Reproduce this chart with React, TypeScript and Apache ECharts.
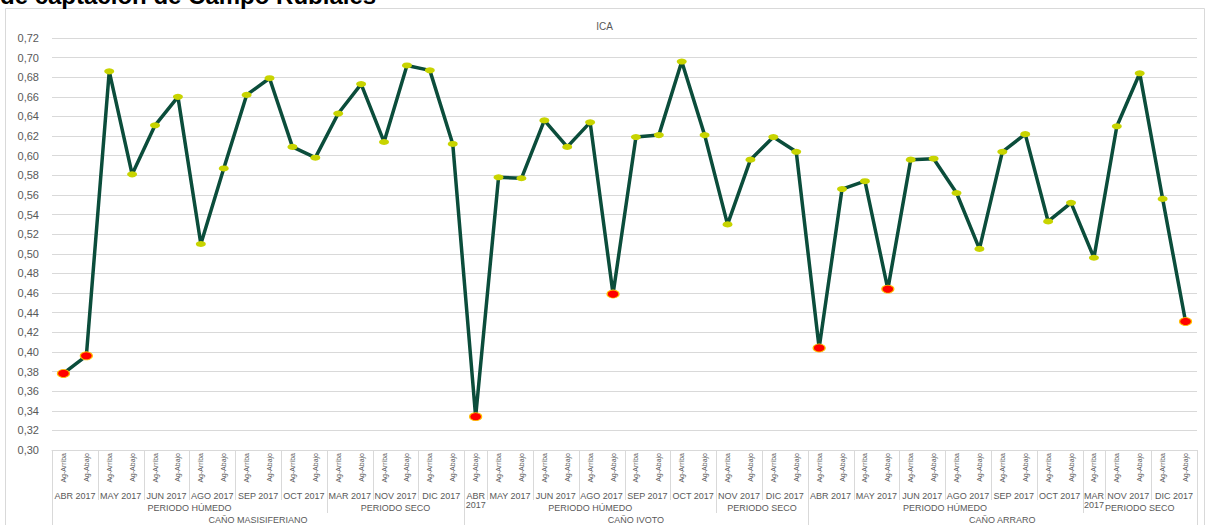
import React, { useEffect, useRef } from "react";
import * as echarts from "echarts";

// ---- data ----
const sampleLabels = [
  // CAÑO MASISIFERIANO
  "Ag-Arriba", "Ag-Abajo", "Ag-Arriba", "Ag-Abajo", "Ag-Arriba", "Ag-Abajo",
  "Ag-Arriba", "Ag-Abajo", "Ag-Arriba", "Ag-Abajo", "Ag-Arriba", "Ag-Abajo",
  "Ag-Arriba", "Ag-Abajo", "Ag-Arriba", "Ag-Abajo", "Ag-Arriba", "Ag-Abajo",
  // CAÑO IVOTO
  "Ag-Abajo", "Ag-Arriba", "Ag-Abajo", "Ag-Arriba", "Ag-Abajo", "Ag-Arriba",
  "Ag-Abajo", "Ag-Arriba", "Ag-Abajo", "Ag-Arriba", "Ag-Abajo", "Ag-Arriba",
  "Ag-Abajo", "Ag-Arriba", "Ag-Abajo",
  // CAÑO ARRARO
  "Ag-Arriba", "Ag-Abajo", "Ag-Arriba", "Ag-Abajo", "Ag-Arriba", "Ag-Abajo",
  "Ag-Arriba", "Ag-Abajo", "Ag-Arriba", "Ag-Abajo", "Ag-Arriba", "Ag-Abajo",
  "Ag-Arriba", "Ag-Arriba", "Ag-Abajo", "Ag-Arriba", "Ag-Abajo",
];

const icaValues = [
  // CAÑO MASISIFERIANO
  0.378, 0.396, 0.686, 0.581, 0.631, 0.660, 0.510, 0.587, 0.662, 0.679,
  0.609, 0.598, 0.643, 0.673, 0.614, 0.692, 0.687, 0.612,
  // CAÑO IVOTO
  0.334, 0.578, 0.577, 0.636, 0.609, 0.634, 0.459, 0.619, 0.621, 0.696,
  0.621, 0.530, 0.596, 0.619, 0.604,
  // CAÑO ARRARO
  0.404, 0.566, 0.574, 0.464, 0.596, 0.597, 0.562, 0.505, 0.604, 0.622,
  0.533, 0.552, 0.496, 0.630, 0.684, 0.556, 0.431,
];

const monthLabels = [
  "ABR 2017", "MAY 2017", "JUN 2017", "AGO 2017", "SEP 2017", "OCT 2017", "MAR 2017", "NOV 2017", "DIC 2017",
  "ABR 2017", "MAY 2017", "JUN 2017", "AGO 2017", "SEP 2017", "OCT 2017", "NOV 2017", "DIC 2017",
  "ABR 2017", "MAY 2017", "JUN 2017", "AGO 2017", "SEP 2017", "OCT 2017", "MAR 2017", "NOV 2017", "DIC 2017",
];
const monthSpans = [
  2, 2, 2, 2, 2, 2, 2, 2, 2,
  1, 2, 2, 2, 2, 2, 2, 2,
  2, 2, 2, 2, 2, 2, 1, 2, 2,
];

const periodLabels = ["PERIODO HÚMEDO", "PERIODO SECO", "PERIODO HÚMEDO", "PERIODO SECO", "PERIODO HÚMEDO", "PERIODO SECO"];
const periodSpans = [12, 6, 11, 4, 12, 5];

const canoLabels = ["CAÑO MASISIFERIANO", "CAÑO IVOTO", "CAÑO ARRARO"];
const canoSpans = [18, 15, 17];

const yTicksMin = 0.3;
const yTicksMax = 0.72;
const yTickStep = 0.02;
const lowThreshold = 0.47;

const chartTitle = "ICA";
const headingText = "de captación de Campo Rubiales";

// ---- style ----
const FONT = "'Liberation Sans', Arial, sans-serif";
const NARROW = "'Liberation Sans Narrow', 'Liberation Sans', Arial, sans-serif";
const TEXT_GREY = "#595959";
const GRID_GREY = "#d9d9d9";
const LINE_GREEN = "#0b4d3b";
const YELLOW = "#c8d400";
const RED = "#ff0000";
const RED_BORDER = "#ffc000";

export default function App() {
  const ref = useRef<HTMLDivElement>(null);

  useEffect(() => {
    if (!ref.current) return;
    const chart = echarts.init(ref.current, undefined, { renderer: "svg" });

    const option: any = {
      animation: false,
      backgroundColor: "#ffffff",
      title: {
        text: chartTitle,
        left: "center",
        top: 16,
        textStyle: { fontSize: 10, color: TEXT_GREY, fontWeight: "normal", fontFamily: FONT },
      },
      grid: { left: 52, right: 12, top: 38, bottom: 75, containLabel: false },
      xAxis: {
        type: "category",
        data: sampleLabels,
        boundaryGap: true,
        axisLine: { show: true, lineStyle: { color: GRID_GREY, width: 1 } },
        axisTick: { show: false },
        axisLabel: {
          interval: 0,
          rotate: 90,
          fontSize: 7,
          margin: 3,
          color: TEXT_GREY,
          fontFamily: NARROW,
        },
        splitLine: { show: false },
      },
      yAxis: {
        type: "value",
        min: yTicksMin,
        max: yTicksMax,
        interval: yTickStep,
        axisLine: { show: false },
        axisTick: { show: false },
        axisLabel: {
          margin: 13,
          fontSize: 11,
          color: TEXT_GREY,
          fontFamily: FONT,
          formatter: (v: number) => v.toFixed(2).replace(".", ","),
        },
        splitLine: { lineStyle: { color: GRID_GREY, width: 1 } },
      },
      series: [
        {
          type: "line",
          symbol: "circle",
          showAllSymbol: true,
          lineStyle: { color: LINE_GREEN, width: 3.5 },
          itemStyle: { color: YELLOW },
          data: icaValues.map((v) =>
            v < lowThreshold
              ? { value: v, symbolSize: [12, 8], itemStyle: { color: RED, borderColor: RED_BORDER, borderWidth: 1 } }
              : { value: v, symbolSize: [10, 6], itemStyle: { color: YELLOW, borderColor: YELLOW, borderWidth: 0 } }
          ),
          z: 3,
        },
      ],
    };
    chart.setOption(option);

    // multi-level category axis, positioned through the axis scales
    const cx = (i: number) => chart.convertToPixel({ xAxisIndex: 0 }, i) as number;
    const yBase = chart.convertToPixel({ yAxisIndex: 0 }, yTicksMin) as number;
    const bw = cx(1) - cx(0);
    const edge = (i: number) => cx(i) - bw / 2;

    const boundaryEnd: Record<number, number> = {};
    const graphics: any[] = [];

    const addLevel = (labels: string[], spans: number[], lineEnd: number, textY: number, wrapSingle: boolean) => {
      let start = 0;
      labels.forEach((lab, k) => {
        const span = spans[k];
        const end = start + span;
        boundaryEnd[start] = Math.max(boundaryEnd[start] || 0, lineEnd);
        boundaryEnd[end] = Math.max(boundaryEnd[end] || 0, lineEnd);
        const mid = (edge(start) + edge(end)) / 2;
        graphics.push({
          type: "text",
          silent: true,
          style: {
            text: wrapSingle && span === 1 ? lab.replace(" ", "\n") : lab,
            x: mid,
            y: textY,
            textAlign: "center",
            textVerticalAlign: "top",
            fill: TEXT_GREY,
            font: `9px ${FONT}`,
            lineHeight: 9,
          },
        });
        start = end;
      });
    };

    addLevel(monthLabels, monthSpans, yBase + 50, yBase + 41, true);
    addLevel(periodLabels, periodSpans, yBase + 63, yBase + 53.5, false);
    addLevel(canoLabels, canoSpans, yBase + 80, yBase + 65.5, false);

    Object.keys(boundaryEnd).forEach((key) => {
      const i = Number(key);
      const x = Math.round(edge(i)) + 0.5;
      graphics.push({
        type: "line",
        silent: true,
        shape: { x1: x, y1: yBase, x2: x, y2: boundaryEnd[i] },
        style: { stroke: GRID_GREY, lineWidth: 1 },
      });
    });

    // chart area frame
    graphics.push({
      type: "rect",
      silent: true,
      z: -1,
      shape: { x: 5.5, y: 8.5, width: 1199, height: 600 },
      style: { fill: "none", stroke: GRID_GREY, lineWidth: 1 },
    });

    // document heading (cut off at the top)
    graphics.push({
      type: "text",
      silent: true,
      style: {
        text: headingText,
        x: 0,
        y: -5,
        textAlign: "left",
        textVerticalAlign: "middle",
        fill: "#000000",
        font: `bold 24px ${FONT}`,
      },
    });

    chart.setOption({ graphic: graphics });

    return () => chart.dispose();
  }, []);

  return (
    <div style={{ position: "fixed", left: 0, top: 0, width: 1209, height: 525, overflow: "hidden", background: "#fff" }}>
      <div ref={ref} style={{ width: 1209, height: 525 }} />
    </div>
  );
}
